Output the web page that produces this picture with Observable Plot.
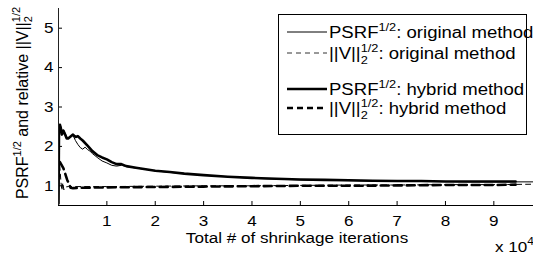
<!DOCTYPE html>
<html><head><meta charset="utf-8">
<script src="https://cdn.jsdelivr.net/npm/d3@7"></script>
<script src="https://cdn.jsdelivr.net/npm/@observablehq/plot@0.6"></script>
<style>
body{margin:0;background:#fff}
svg text{font-family:"Liberation Sans",Arial,sans-serif}
</style></head><body><div id="chart"></div>
<script>
// x in units of 10^4 shrinkage iterations
const xTicks = [1,2,3,4,5,6,7,8,9];
const yTicks = [1,2,3,4,5];

const psrfOrigX = [0,0.01,0.03,0.05,0.08,0.1,0.13,0.17,0.2,0.25,0.3,0.35,0.4,0.45,0.5,0.55,0.6,0.65,0.7,0.8,0.9,1.0,1.1,1.2,1.3,1.4,1.6,1.8,2.0,2.3,2.6,3.0,3.5,4.0,4.5,5.0,5.5,6.0,6.5,7.0,7.5,8.0,8.5,9.0,9.5,9.82];
const psrfOrigY = [0.55,2.25,2.4,2.5,2.3,2.42,2.35,2.25,2.2,2.25,2.28,2.15,2.05,1.97,1.93,1.98,1.92,1.88,1.82,1.72,1.63,1.58,1.52,1.5,1.52,1.49,1.45,1.42,1.38,1.34,1.31,1.27,1.23,1.19,1.17,1.15,1.14,1.13,1.12,1.12,1.11,1.11,1.1,1.1,1.1,1.1];

const psrfHybX = [0,0.01,0.03,0.05,0.07,0.1,0.13,0.17,0.2,0.25,0.3,0.35,0.4,0.45,0.5,0.6,0.7,0.8,0.9,1.0,1.1,1.2,1.3,1.4,1.6,1.8,2.0,2.3,2.6,3.0,3.5,4.0,4.5,5.0,5.5,6.0,6.5,7.0,7.5,8.0,8.5,9.0,9.45];
const psrfHybY = [0.55,2.4,2.55,2.45,2.3,2.4,2.32,2.2,2.2,2.25,2.3,2.24,2.26,2.2,2.15,2.02,1.88,1.78,1.72,1.67,1.6,1.55,1.55,1.5,1.46,1.42,1.38,1.35,1.31,1.27,1.23,1.2,1.18,1.16,1.15,1.14,1.13,1.12,1.12,1.11,1.11,1.11,1.11];

const vOrigX = [0.01,0.03,0.05,0.07,0.09,0.11,0.14,0.2,0.5,1,2,3,4,5,6,7,8,9,9.82];
const vOrigY = [1.75,1.45,1.1,0.88,1.08,0.9,0.97,0.98,0.98,0.98,0.99,1.0,1.0,1.01,1.02,1.02,1.03,1.03,1.04];

const vHybX = [0.03,0.1,0.18,0.25,0.3,0.5,1,2,3,4,5,6,7,8,9,9.45];
const vHybY = [1.6,1.45,1.15,0.95,0.94,0.95,0.96,0.97,0.98,0.99,1.0,1.0,1.01,1.02,1.02,1.03];

const toRows = (xs, ys) => xs.map((x, i) => ({x, y: ys[i]}));
const psrfOrig = toRows(psrfOrigX, psrfOrigY);
const psrfHyb = toRows(psrfHybX, psrfHybY);
const vOrig = toRows(vOrigX, vOrigY);
const vHyb = toRows(vHybX, vHybY);

const W = 533, H = 257, mL = 58, mT = 8, mB = 52;
const plotH = H - mT - mB, plotW = W - mL;
const FS = 15, SX = 1.14;
const LFS = 16, LSX = 1.16;

const chart = Plot.plot({
  width: W, height: H,
  marginLeft: mL, marginRight: 0, marginTop: mT, marginBottom: mB,
  x: {domain: [0, 9.82]},
  y: {domain: [0.5, 5.5]},
  style: {fontFamily: '"Liberation Sans", Arial, sans-serif', fontSize: FS + "px", color: "#000", background: "#fff", overflow: "visible"},
  marks: [
    Plot.axisX(xTicks, {tickSize: 0, tickPadding: 10, fontSize: FS, label: null}),
    Plot.axisY(yTicks, {tickSize: 0, tickPadding: 5, fontSize: FS, label: null}),
    Plot.tickX(xTicks, {x: d => d, insetTop: plotH - 4, stroke: "#000", strokeWidth: 1}),
    Plot.tickY(yTicks, {y: d => d, insetRight: plotW - 4, stroke: "#000", strokeWidth: 1}),
    Plot.line(vOrig, {x: "x", y: "y", stroke: "#000", strokeWidth: 1, strokeDasharray: "5,4", clip: true}),
    Plot.line(psrfOrig, {x: "x", y: "y", stroke: "#000", strokeWidth: 1, clip: true}),
    Plot.line(vHyb, {x: "x", y: "y", stroke: "#000", strokeWidth: 2.6, strokeDasharray: "8,5", clip: true}),
    Plot.line(psrfHyb, {x: "x", y: "y", stroke: "#000", strokeWidth: 2.6, clip: true}),
    Plot.ruleX([0], {stroke: "#222", strokeWidth: 1}),
    Plot.ruleY([0.5], {stroke: "#000", strokeWidth: 1})
  ]
});
document.getElementById("chart").appendChild(chart);

const svg = d3.select(chart);
// horizontally stretch tick labels (the reference is horizontally stretched)
svg.selectAll('g[aria-label="x-axis tick label"] text, g[aria-label="y-axis tick label"] text').each(function(){
  const t = this.getAttribute("transform");
  if (t && t.includes("translate")) {
    this.setAttribute("transform", t + ` scale(${SX},1)`);
  } else {
    const x = +this.getAttribute("x") || 0, y = +this.getAttribute("y") || 0;
    this.removeAttribute("x"); this.removeAttribute("y");
    this.setAttribute("transform", `translate(${x},${y}) scale(${SX},1)`);
  }
});

const g = svg.append("g").attr("fill", "#000").attr("text-anchor", "start")
  .style("font-family", '"Liberation Sans", Arial, sans-serif');

// x label
g.append("text").attr("transform", `translate(297,243) scale(${SX},1)`)
  .attr("text-anchor", "middle").attr("font-size", FS).text("Total # of shrinkage iterations");
// x multiplier
const mult = g.append("text").attr("transform", `translate(495,252) scale(${SX},1)`)
  .attr("text-anchor", "start").attr("font-size", FS);
mult.append("tspan").text("x 10");
mult.append("tspan").attr("font-size", 10.5).attr("dy", -7).text("4");

// y label (rotated)
const yl = g.append("text").attr("transform", "translate(28,103) rotate(-90)")
  .attr("text-anchor", "middle").attr("font-size", 16);
yl.append("tspan").text("PSRF");
yl.append("tspan").attr("font-size", 11).attr("dy", -7).text("1/2");
yl.append("tspan").attr("dy", 7).text(" and relative ||V||");
yl.append("tspan").attr("font-size", 11).attr("dy", 4).text("2");
yl.append("tspan").attr("font-size", 11).attr("dx", -6.1).attr("dy", -12).text("1/2");

// legend
const leg = g.append("g").attr("text-anchor", "start");
leg.append("rect").attr("x", 278.5).attr("y", 14.5).attr("width", 248).attr("height", 120)
  .attr("fill", "#fff").attr("stroke", "#000").attr("stroke-width", 1);
const entries = [
  {y: 32, w: 1, dash: null, psrf: true, label: ": original method", col: "#000"},
  {y: 53, w: 1, dash: "5,4", psrf: false, label: ": original method", col: "#333"},
  {y: 89, w: 2.6, dash: null, psrf: true, label: ": hybrid method", col: "#000"},
  {y: 108, w: 2.6, dash: "6,4", psrf: false, label: ": hybrid method", col: "#000"}
];
entries.forEach(e => {
  leg.append("line").attr("x1", 287).attr("x2", 327).attr("y1", e.y).attr("y2", e.y)
    .attr("stroke", e.col).attr("stroke-width", e.w).attr("stroke-dasharray", e.dash);
  const t = leg.append("text").attr("transform", `translate(329,${e.y + 5.5}) scale(${LSX},1)`)
    .attr("text-anchor", "start").attr("font-size", LFS);
  if (e.psrf) {
    t.append("tspan").text("PSRF");
    t.append("tspan").attr("font-size", 11).attr("dy", -6.5).text("1/2");
    t.append("tspan").attr("dy", 6.5).text(e.label);
  } else {
    t.append("tspan").text("||V||");
    t.append("tspan").attr("font-size", 11).attr("dy", 5).text("2");
    t.append("tspan").attr("font-size", 11).attr("dx", -6.1).attr("dy", -11.5).text("1/2");
    t.append("tspan").attr("dy", 6.5).text(e.label);
  }
});
</script></body></html>
